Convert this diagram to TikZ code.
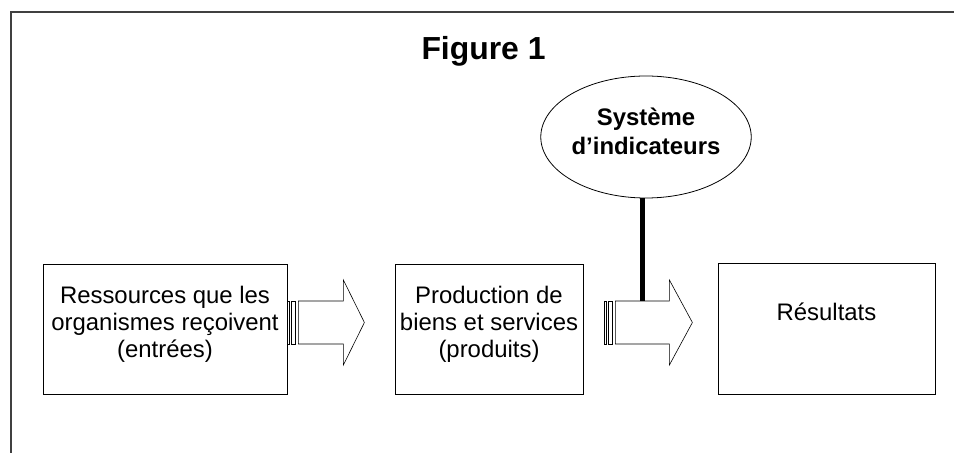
\documentclass[tikz,border=0pt]{standalone}
\usepackage{fontspec}
\setmainfont{Liberation Sans}
\usetikzlibrary{calc,shapes.geometric}

% hebt den Text im Kasten an, ohne dass sich die Groesse des Knotens aendert:
\newcommand{\hochtext}[2]{\raisebox{#1}[\height][\depth]{#2}}

% Ein "gestreifter" Pfeil wie im Originalbild: zwei schmale Streifen und dann der Pfeil selbst.
% #1 = Startpunkt (Mitte links), #2 = Gesamtlaenge, #3 = Laenge der Spitze
\newcommand{\streifenpfeil}[3]{%
    \begin{scope}[shift={#1}]
        \draw[pfeilrand] (0,-21.5) rectangle (2,21.5);
        \draw[pfeilrand] (4,-21.5) rectangle (8,21.5);
        \draw[pfeilrand] (11,-21.5) -- ({#2-#3},-21.5) -- ({#2-#3},-42.5) -- (#2,0)
            -- ({#2-#3},42.5) -- ({#2-#3},21.5) -- (11,21.5) -- cycle;
    \end{scope}}

\tikzset{
    kasten/.style={draw, line width=0.8pt, inner sep=0pt, font=\fontsize{24}{27}\selectfont},
    pfeilrand/.style={draw, line width=0.6pt, fill=white},
    stiel/.style={line width=5bp},
    rahmen/.style={draw=black!75, line width=1.5bp}
}

\begin{document}
\begin{tikzpicture}[x=1bp, y=-1bp]
    % Bildgroesse wie im Original festlegen:
    \useasboundingbox (0,0) rectangle (954,453);
    % der (unvollstaendige) Rahmen oben und links:
    \draw[rahmen] (954,12) -- (11,12) -- (11,453);
    % Ueberschrift:
    \node[font=\bfseries\fontsize{32}{36}\selectfont] (titel) at (483.5,51) {Figure 1};
    % Die drei Kaesten:
    \node[kasten, minimum width=244bp, minimum height=130bp] (ressourcen) at (165,329)
        {\hochtext{4bp}{\begin{tabular}{@{}c@{}}Ressources que les\\organismes reçoivent\\(entrées)\end{tabular}}};
    \node[kasten, minimum width=188bp, minimum height=130bp] (produktion) at (489,329)
        {\hochtext{4bp}{\begin{tabular}{@{}c@{}}Production de\\biens et services\\(produits)\end{tabular}}};
    \node[kasten, minimum width=217bp, minimum height=131bp] (resultate) at (826.5,328.5)
        {\hochtext{13bp}{\begin{tabular}{@{}c@{}}Résultats\end{tabular}}};
    % Die Ellipse oben:
    \node[kasten, ellipse, minimum width=197bp, minimum height=122bp,
        font=\bfseries\fontsize{24}{29}\selectfont] (system) at (646,137)
        {\hochtext{3bp}{\begin{tabular}{@{}c@{}}Système\\d’indicateurs\end{tabular}}};
    % Die beiden Pfeile zwischen den Kaesten:
    \streifenpfeil{($(ressourcen.east)+(0,-6.5)$)}{77}{21}
    \streifenpfeil{($(produktion.east)+(21,-6.5)$)}{88}{23}
    % Der dicke Strich von der Ellipse bis zum zweiten Pfeil:
    \coordinate (stielende) at ($(produktion.east)+(59,-28)$);
    \draw[stiel] (system.south -| stielende) -- (stielende);
\end{tikzpicture}
\end{document}
